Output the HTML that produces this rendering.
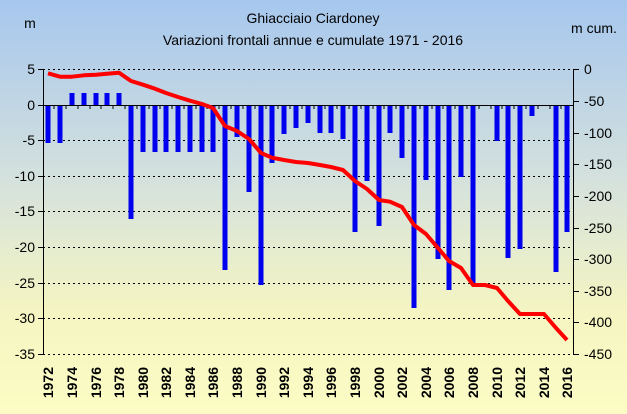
<!DOCTYPE html>
<html><head><meta charset="utf-8"><style>
body{margin:0;width:627px;height:414px;overflow:hidden}
svg{display:block;font-family:"Liberation Sans",Arial,sans-serif}
</style></head><body>
<svg width="627" height="414" viewBox="0 0 627 414">
<defs><linearGradient id="g" x1="0" y1="0" x2="0" y2="1">
<stop offset="0" stop-color="#a6c7ee"/><stop offset="0.45" stop-color="#d6e2dc"/><stop offset="0.75" stop-color="#f4f5c2"/><stop offset="1" stop-color="#fcfcc4"/></linearGradient></defs>
<rect width="627" height="414" fill="url(#g)"/>
<g font-size="14" fill="#000">
<text x="313" y="23" text-anchor="middle">Ghiacciaio Ciardoney</text>
<text x="313" y="45" text-anchor="middle">Variazioni frontali annue e cumulate 1971 - 2016</text>
<text x="30" y="28" text-anchor="middle">m</text>
<text x="594" y="33" text-anchor="middle">m cum.</text>
</g>
<g stroke="#000" stroke-width="1" stroke-dasharray="2,3">
<line x1="43" x2="574" y1="69.5" y2="69.5"/><line x1="43" x2="574" y1="140.5" y2="140.5"/>
<line x1="43" x2="574" y1="176.5" y2="176.5"/><line x1="43" x2="574" y1="211.5" y2="211.5"/>
<line x1="43" x2="574" y1="247.5" y2="247.5"/><line x1="43" x2="574" y1="283.5" y2="283.5"/>
<line x1="43" x2="574" y1="318.5" y2="318.5"/><line x1="43" x2="574" y1="354.5" y2="354.5"/>
</g>
<g fill="#0000ee">
<rect x="45.5" y="105" width="5" height="38"/><rect x="57.5" y="105" width="5" height="38"/>
<rect x="69.5" y="93" width="5" height="12"/><rect x="81.5" y="93" width="5" height="12"/>
<rect x="93.5" y="93" width="5" height="12"/><rect x="104.5" y="93" width="5" height="12"/>
<rect x="116.5" y="93" width="5" height="12"/>
<rect x="128.5" y="105" width="5" height="114"/>
<rect x="140.5" y="105" width="5" height="47"/><rect x="152.5" y="105" width="5" height="47"/>
<rect x="163.5" y="105" width="5" height="47"/><rect x="175.5" y="105" width="5" height="47"/>
<rect x="187.5" y="105" width="5" height="47"/><rect x="199.5" y="105" width="5" height="47"/>
<rect x="210.5" y="105" width="5" height="47"/>
<rect x="222.5" y="105" width="5" height="165"/>
<rect x="234.5" y="105" width="5" height="32"/>
<rect x="246.5" y="105" width="5" height="87"/>
<rect x="258.5" y="105" width="5" height="180"/>
<rect x="269.5" y="105" width="5" height="58"/>
<rect x="281.5" y="105" width="5" height="29"/>
<rect x="293.5" y="105" width="5" height="23"/>
<rect x="305.5" y="105" width="5" height="18"/>
<rect x="317.5" y="105" width="5" height="28"/>
<rect x="328.5" y="105" width="5" height="28"/>
<rect x="340.5" y="105" width="5" height="34"/>
<rect x="352.5" y="105" width="5" height="127"/>
<rect x="364.5" y="105" width="5" height="76"/>
<rect x="376.5" y="105" width="5" height="121"/>
<rect x="387.5" y="105" width="5" height="28"/>
<rect x="399.5" y="105" width="5" height="53"/>
<rect x="411.5" y="105" width="5" height="203"/>
<rect x="423.5" y="105" width="5" height="75"/>
<rect x="435.5" y="105" width="5" height="154"/>
<rect x="446.5" y="105" width="5" height="185"/>
<rect x="458.5" y="105" width="5" height="72"/>
<rect x="470.5" y="105" width="5" height="178"/>
<rect x="494.5" y="105" width="5" height="36"/>
<rect x="505.5" y="105" width="5" height="153"/>
<rect x="517.5" y="105" width="5" height="144"/>
<rect x="529.5" y="105" width="5" height="11"/>
<rect x="553.5" y="105" width="5" height="167"/>
<rect x="564.5" y="105" width="5" height="127"/>
</g>
<g stroke="#000" stroke-width="1">
<line x1="43.5" y1="69" x2="43.5" y2="355"/>
<line x1="573.5" y1="69" x2="573.5" y2="355"/>
<line x1="43" y1="105.5" x2="574" y2="105.5"/>
<path d="M38 69.5h5M38 105.5h5M38 140.5h5M38 176.5h5M38 211.5h5M38 247.5h5M38 283.5h5M38 318.5h5M38 354.5h5"/>
<path d="M574 69.5h5M574 101.5h5M574 133.5h5M574 164.5h5M574 196.5h5M574 228.5h5M574 259.5h5M574 291.5h5M574 322.5h5M574 354.5h5"/>
<path d="M54 105v4M66 105v4M78 105v4M90 105v4M101 105v4M113 105v4M125 105v4M137 105v4M149 105v4M160 105v4M172 105v4M184 105v4M196 105v4M207 105v4M219 105v4M231 105v4M243 105v4M255 105v4M266 105v4M278 105v4M290 105v4M302 105v4M314 105v4M325 105v4M337 105v4M349 105v4M361 105v4M373 105v4M384 105v4M396 105v4M408 105v4M420 105v4M432 105v4M443 105v4M455 105v4M467 105v4M479 105v4M491 105v4M502 105v4M514 105v4M526 105v4M538 105v4M550 105v4M561 105v4"/>
</g>
<polyline fill="none" stroke="#ff0000" stroke-width="4" stroke-linejoin="round" points="48,73.3 60,76.7 72,76.7 84,75.3 96,74.7 107,73.7 119,72.7 131,81 143,84.7 155,88.7 166,93 178,97 190,100.7 202,104 213,108 225,126 237,131 249,139 261,153 272,157.7 284,160 296,162 308,163 320,165 331,167 343,170 355,181 367,189 379,200 390,201.7 402,207 414,225 426,234 438,248 449,261 461,268 473,285 485,285 497,288 508,301 520,314 532,314 544,314 556,328 567,340"/>
<g font-size="14" text-anchor="end" fill="#000">
<text x="35" y="74">5</text><text x="35" y="110">0</text><text x="35" y="145">-5</text>
<text x="35" y="181">-10</text><text x="35" y="216">-15</text><text x="35" y="252">-20</text>
<text x="35" y="288">-25</text><text x="35" y="323">-30</text><text x="35" y="359">-35</text>
</g>
<g font-size="14" fill="#000">
<text x="584" y="74">0</text><text x="584" y="106">-50</text><text x="584" y="138">-100</text>
<text x="584" y="169">-150</text><text x="584" y="201">-200</text><text x="584" y="233">-250</text>
<text x="584" y="264">-300</text><text x="584" y="296">-350</text><text x="584" y="327">-400</text><text x="584" y="359">-450</text>
</g>
<g font-size="14" font-weight="bold" fill="#000" text-anchor="end">
<text transform="translate(53,367) rotate(-90)">1972</text>
<text transform="translate(77,367) rotate(-90)">1974</text>
<text transform="translate(101,367) rotate(-90)">1976</text>
<text transform="translate(124,367) rotate(-90)">1978</text>
<text transform="translate(148,367) rotate(-90)">1980</text>
<text transform="translate(171,367) rotate(-90)">1982</text>
<text transform="translate(195,367) rotate(-90)">1984</text>
<text transform="translate(218,367) rotate(-90)">1986</text>
<text transform="translate(242,367) rotate(-90)">1988</text>
<text transform="translate(266,367) rotate(-90)">1990</text>
<text transform="translate(289,367) rotate(-90)">1992</text>
<text transform="translate(313,367) rotate(-90)">1994</text>
<text transform="translate(336,367) rotate(-90)">1996</text>
<text transform="translate(360,367) rotate(-90)">1998</text>
<text transform="translate(384,367) rotate(-90)">2000</text>
<text transform="translate(407,367) rotate(-90)">2002</text>
<text transform="translate(431,367) rotate(-90)">2004</text>
<text transform="translate(454,367) rotate(-90)">2006</text>
<text transform="translate(478,367) rotate(-90)">2008</text>
<text transform="translate(502,367) rotate(-90)">2010</text>
<text transform="translate(525,367) rotate(-90)">2012</text>
<text transform="translate(549,367) rotate(-90)">2014</text>
<text transform="translate(572,367) rotate(-90)">2016</text>
</g>
</svg>
</body></html>
